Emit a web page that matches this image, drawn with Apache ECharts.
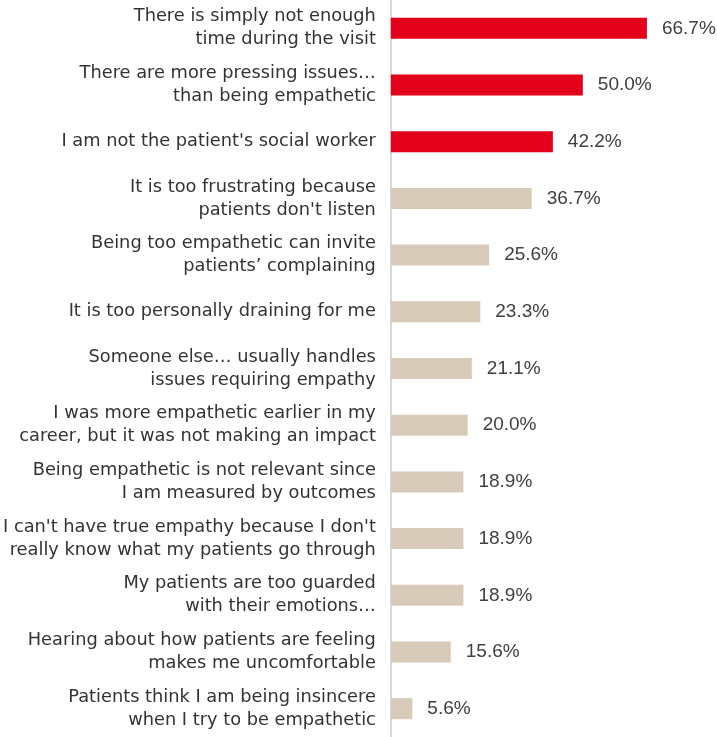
<!DOCTYPE html>
<html>
<head>
<meta charset="utf-8">
<script src="https://cdn.jsdelivr.net/npm/echarts@6/dist/echarts.min.js"></script>
<style>
  html, body { margin: 0; padding: 0; background: #ffffff; }
  #chart { width: 717px; height: 737px; }
</style>
</head>
<body>
<div id="chart"></div>
<script>
// Reasons given for not showing more empathy, top to bottom
const categories = [
  "There is simply not enough\ntime during the visit",
  "There are more pressing issues…\nthan being empathetic",
  "I am not the patient's social worker",
  "It is too frustrating because\npatients don't listen",
  "Being too empathetic can invite\npatients’ complaining",
  "It is too personally draining for me",
  "Someone else… usually handles\nissues requiring empathy",
  "I was more empathetic earlier in my\ncareer, but it was not making an impact",
  "Being empathetic is not relevant since\nI am measured by outcomes",
  "I can't have true empathy because I don't\nreally know what my patients go through",
  "My patients are too guarded\nwith their emotions…",
  "Hearing about how patients are feeling\nmakes me uncomfortable",
  "Patients think I am being insincere\nwhen I try to be empathetic"
];
const percentages = [66.7, 50.0, 42.2, 36.7, 25.6, 23.3, 21.1, 20.0, 18.9, 18.9, 18.9, 15.6, 5.6];
// The first three reasons are highlighted
const highlighted = [true, true, true, false, false, false, false, false, false, false, false, false, false];

const RED = '#E3001B';
const BEIGE = '#D8CAB9';

const chart = echarts.init(document.getElementById('chart'), null, { renderer: 'canvas' });

chart.setOption({
  animation: false,
  backgroundColor: '#ffffff',
  grid: { left: 390, top: 0, width: 308, height: 742, containLabel: false },
  xAxis: {
    type: 'value',
    min: 0,
    max: 80,
    show: false
  },
  yAxis: {
    type: 'category',
    inverse: true,
    data: categories,
    axisLine: { show: true, lineStyle: { color: '#D9D9D9', width: 2 } },
    axisTick: { show: false },
    splitLine: { show: false },
    axisLabel: {
      margin: 15,
      color: '#333333',
      fontFamily: '"DejaVu Sans", sans-serif',
      fontSize: 17.8,
      lineHeight: 23,
      align: 'right',
      verticalAlign: 'middle',
      padding: [0, 0, 4, 0]
    }
  },
  series: [{
    type: 'bar',
    barWidth: 21,
    data: percentages.map((v, i) => ({
      value: v,
      itemStyle: { color: highlighted[i] ? RED : BEIGE }
    })),
    label: {
      show: true,
      position: 'right',
      distance: 15,
      color: '#404040',
      fontFamily: '"Liberation Sans", Arial, sans-serif',
      fontSize: 19,
      formatter: p => p.value.toFixed(1) + '%'
    }
  }]
});
</script>
</body>
</html>
